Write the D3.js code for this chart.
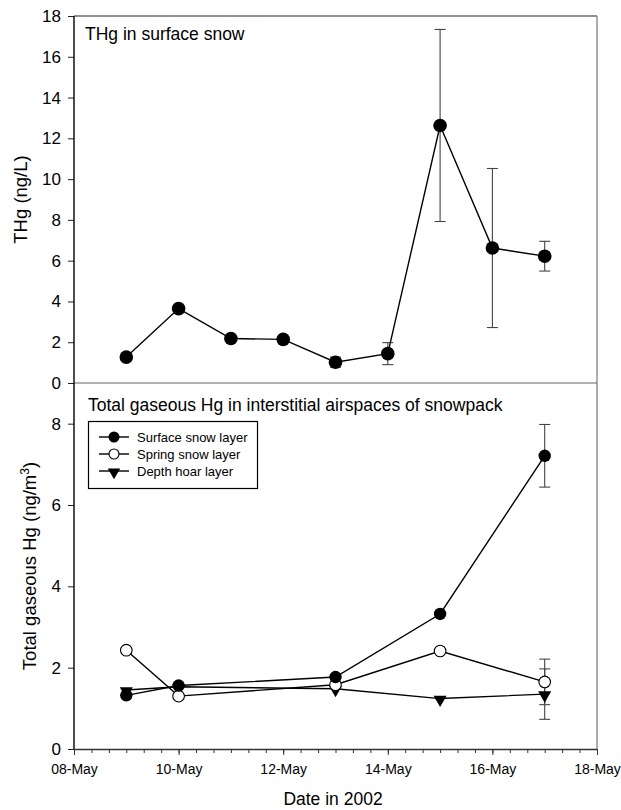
<!DOCTYPE html>
<html><head><meta charset="utf-8">
<script src="https://cdn.jsdelivr.net/npm/d3@7/dist/d3.min.js"></script>
<style>
body{margin:0;background:#fff;}
svg{display:block;font-family:"Liberation Sans",Arial,sans-serif;}
</style></head>
<body><svg id="c" width="621" height="810"></svg>
<script>
// ---- data ----
const topDates = ["2002-05-09","2002-05-10","2002-05-11","2002-05-12","2002-05-13","2002-05-14","2002-05-15","2002-05-16","2002-05-17"];
const thgMean  = [1.27, 3.65, 2.18, 2.14, 1.02, 1.44, 12.63, 6.62, 6.22];
const thgErr   = [0.1, 0.1, 0.1, 0.1, 0.25, 0.54, 4.71, 3.9, 0.73];

const botDates = ["2002-05-09","2002-05-10","2002-05-13","2002-05-15","2002-05-17"];
const surfaceMean = [1.32, 1.56, 1.77, 3.32, 7.21];
const surfaceErr  = [0, 0, 0, 0, 0.77];
const springMean  = [2.43, 1.30, 1.58, 2.41, 1.65];
const springErr   = [0, 0, 0, 0, 0.56];
const hoarMean    = [1.45, 1.53, 1.48, 1.24, 1.35];
const hoarErr     = [0, 0, 0, 0, 0.62];

const seriesNames = ["Surface snow layer","Spring snow layer","Depth hoar layer"];
const topTicks = [0,2,4,6,8,10,12,14,16,18];
const botTicks = [0,2,4,6,8];
const xTickDates = ["2002-05-08","2002-05-10","2002-05-12","2002-05-14","2002-05-16","2002-05-18"];

// ---- layout ----
const L = 74, R = 597, T = 16, M = 383, B = 749;
const svg = d3.select("#c");
const parse = d3.utcParse("%Y-%m-%d");
const x = d3.scaleUtc().domain([parse("2002-05-08"), parse("2002-05-18")]).range([L, R]);
const yTop = d3.scaleLinear().domain([0, 18]).range([M, T]);
const yBot = d3.scaleLinear().domain([0, 9]).range([B, M]);

// frame
svg.append("line").attr("x1",L).attr("x2",R).attr("y1",T).attr("y2",T).attr("stroke","#222").attr("stroke-width",1.2);
svg.append("line").attr("x1",R).attr("x2",R).attr("y1",T).attr("y2",B).attr("stroke","#777").attr("stroke-width",1.2);
svg.append("line").attr("x1",L).attr("x2",R).attr("y1",M).attr("y2",M).attr("stroke","#666").attr("stroke-width",1.2);

// y axes
const yAxT = svg.append("g").attr("transform",`translate(${L},0)`)
  .call(d3.axisLeft(yTop).tickValues(topTicks).tickSize(6).tickPadding(7).tickSizeOuter(0).tickFormat(d3.format("d")));
const yAxB = svg.append("g").attr("transform",`translate(${L},0)`)
  .call(d3.axisLeft(yBot).tickValues(botTicks).tickSize(6).tickPadding(7).tickSizeOuter(0).tickFormat(d3.format("d")));
[yAxT, yAxB].forEach(g=>{
  g.select(".domain").remove();
  g.selectAll("text").attr("font-size",17).attr("fill","#000").attr("font-family","Liberation Sans, Arial, sans-serif");
  g.selectAll("line").attr("stroke","#222");
});
svg.append("line").attr("x1",L).attr("x2",L).attr("y1",T).attr("y2",B).attr("stroke","#000").attr("stroke-width",1.4);

// x axis (minor ticks every 8 h)
const minor = d3.utcHour.every(8).range(parse("2002-05-08"), d3.utcHour.offset(parse("2002-05-18"),1));
svg.append("g").attr("transform",`translate(0,${B})`)
  .call(d3.axisBottom(x).tickValues(minor).tickSize(4).tickFormat(""))
  .call(g=>{g.select(".domain").remove(); g.selectAll("line").attr("stroke","#333");});
const xAx = svg.append("g").attr("transform",`translate(0,${B})`)
  .call(d3.axisBottom(x).tickValues(xTickDates.map(parse)).tickSize(6).tickPadding(9).tickSizeOuter(0).tickFormat(d3.utcFormat("%d-%b")));
xAx.select(".domain").attr("stroke","#333").attr("stroke-width",1.4);
xAx.selectAll("line").attr("stroke","#333");
xAx.selectAll("text").attr("font-size",14).attr("fill","#000").attr("font-family","Liberation Sans, Arial, sans-serif");

// titles and labels
svg.append("text").attr("x",85).attr("y",40).attr("font-size",17.5).text("THg in surface snow");
svg.append("text").attr("x",88).attr("y",411).attr("font-size",17.5).text("Total gaseous Hg in interstitial airspaces of snowpack");
svg.append("text").attr("x",333).attr("y",805).attr("font-size",17.5).attr("text-anchor","middle").text("Date in 2002");
svg.append("text").attr("transform",`translate(27,${(T+M)/2}) rotate(-90)`).attr("text-anchor","middle").attr("font-size",18.5).text("THg (ng/L)");
const yl = svg.append("text").attr("transform",`translate(36,${(M+B)/2}) rotate(-90)`).attr("text-anchor","middle").attr("font-size",18.5);
yl.append("tspan").text("Total gaseous Hg (ng/m");
yl.append("tspan").attr("font-size",12).attr("dy",-7).text("3");
yl.append("tspan").attr("dy",7).text(")");

// helpers
function errBars(dates, mean, err, y){
  const g = svg.append("g").attr("stroke","#444").attr("stroke-width",1.1);
  dates.forEach((d,i)=>{
    if(!err[i]) return;
    const cx = x(parse(d)), y1 = y(mean[i]+err[i]), y2 = y(mean[i]-err[i]);
    g.append("line").attr("x1",cx).attr("x2",cx).attr("y1",y1).attr("y2",y2);
    g.append("line").attr("x1",cx-5.5).attr("x2",cx+5.5).attr("y1",y1).attr("y2",y1);
    g.append("line").attr("x1",cx-5.5).attr("x2",cx+5.5).attr("y1",y2).attr("y2",y2);
  });
}
function seriesLine(dates, mean, y){
  const line = d3.line().x((d,i)=>x(parse(dates[i]))).y(d=>y(d));
  svg.append("path").datum(mean).attr("d",line).attr("fill","none").attr("stroke","#000").attr("stroke-width",1.4);
}
function markers(dates, mean, y, type, r){
  const g = svg.append("g");
  dates.forEach((d,i)=>drawMarker(g, x(parse(d)), y(mean[i]), type, r));
}
function drawMarker(g, cx, cy, type, r){
  if(type==="filled") g.append("circle").attr("cx",cx).attr("cy",cy).attr("r",r).attr("fill","#000");
  else if(type==="open") g.append("circle").attr("cx",cx).attr("cy",cy).attr("r",r-0.5).attr("fill","#fff").attr("stroke","#000").attr("stroke-width",1.1);
  else g.append("path").attr("d",d3.symbol().type(d3.symbolTriangle).size(r*r*2.2)()).attr("transform",`translate(${cx},${cy+1}) rotate(180)`).attr("fill","#000");
}

// top panel
errBars(topDates, thgMean, thgErr, yTop);
seriesLine(topDates, thgMean, yTop);
markers(topDates, thgMean, yTop, "filled", 6.8);

// bottom panel
errBars(botDates, surfaceMean, surfaceErr, yBot);
errBars(botDates, springMean, springErr, yBot);
errBars(botDates, hoarMean, hoarErr, yBot);
seriesLine(botDates, hoarMean, yBot);
seriesLine(botDates, springMean, yBot);
seriesLine(botDates, surfaceMean, yBot);
markers(botDates, hoarMean, yBot, "tri", 5.8);
markers(botDates, springMean, yBot, "open", 6.3);
markers(botDates, surfaceMean, yBot, "filled", 6.2);

// legend
const lg = svg.append("g");
lg.append("rect").attr("x",88.5).attr("y",421.5).attr("width",169).attr("height",67).attr("fill","#fff").attr("stroke","#000").attr("stroke-width",1.2);
const types = ["filled","open","tri"];
seriesNames.forEach((n,i)=>{
  const cy = 437 + i*17;
  lg.append("line").attr("x1",99).attr("x2",129).attr("y1",cy).attr("y2",cy).attr("stroke","#000").attr("stroke-width",1.4);
  drawMarker(lg, 114, cy, types[i], 5.5);
  lg.append("text").attr("x",137).attr("y",cy+5).attr("font-size",13).text(n);
});
</script></body></html>
